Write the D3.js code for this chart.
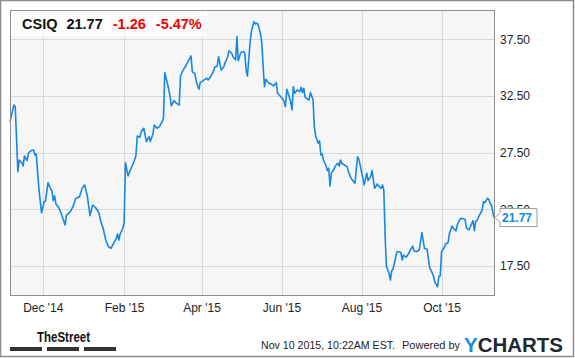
<!DOCTYPE html>
<html>
<head>
<meta charset="utf-8">
<script src="https://cdn.jsdelivr.net/npm/d3@7"></script>
<style>
  body { margin: 0; background: #fff; }
  svg { display: block; font-family: "Liberation Sans", Arial, sans-serif; }
</style>
</head>
<body>
<svg id="chart" width="575" height="358"></svg>
<script>
// quote header
const symbol = "CSIQ";
const lastPrice = "21.77";
const change = "-1.26";
const changePct = "-5.47%";
const stamp = "Nov 10 2015, 10:22AM EST.";

// daily closes: days since startDate / price
const startDate = new Date(2014, 10, 6);
const endDate = new Date(2015, 10, 10);
const dayOffsets = [
  0, 3, 4, 6, 7, 9, 10, 11, 13, 14,
  16, 18, 19, 20, 22, 24, 26, 27, 29, 31,
  32, 33, 34, 35, 37, 39, 42, 43, 46, 48,
  50, 52, 53, 55, 57, 59, 61, 63, 65, 67,
  68, 69, 71, 73, 75, 77, 79, 81, 82, 83,
  84, 86, 87, 88, 90, 92, 94, 96, 97, 99,
  100, 102, 104, 106, 107, 109, 110, 112, 114, 116,
  117, 118, 120, 122, 123, 125, 127, 129, 130, 132,
  134, 138, 139, 141, 142, 144, 145, 148, 150, 151,
  153, 155, 156, 158, 159, 161, 163, 164, 166, 167,
  169, 170, 172, 173, 174, 176, 178, 179, 180, 181,
  183, 184, 186, 187, 188, 189, 191, 192, 193, 194,
  195, 197, 199, 201, 203, 204, 206, 208, 209, 210,
  211, 212, 214, 215, 216, 217, 219, 221, 222, 223,
  224, 225, 227, 228, 229, 231, 232, 233, 235, 236,
  237, 238, 239, 241, 242, 243, 244, 245, 247, 248,
  250, 251, 252, 253, 255, 257, 258, 260, 263, 265,
  266, 268, 270, 272, 273, 275, 276, 278, 280, 281,
  283, 284, 285, 286, 287, 289, 290, 291, 292, 295,
  297, 298, 299, 300, 302, 304, 305, 307, 308, 310,
  312, 313, 314, 316, 318, 320, 321, 323, 324, 326,
  327, 328, 329, 331, 332, 334, 335, 337, 338, 340,
  341, 343, 344, 346, 347, 348, 350, 351, 353, 354,
  355, 356, 358, 360, 361, 362, 364, 365, 366, 367,
  369
];
const prices = [
  30.23, 31.70, 31.55, 25.82, 26.85, 26.61, 26.32, 27.20, 26.79, 27.44,
  27.67, 27.73, 27.29, 27.38, 24.35, 22.20, 23.17, 23.23, 24.85, 24.27,
  24.14, 23.26, 23.68, 22.97, 22.68, 22.15, 21.12, 21.97, 22.29, 22.73,
  23.44, 23.56, 23.61, 24.35, 24.65, 23.61, 21.94, 22.88, 22.68, 22.35,
  22.09, 21.50, 20.83, 19.79, 19.20, 19.06, 19.50, 19.94, 20.32, 19.79,
  20.32, 20.83, 21.32, 26.61, 25.44, 26.03, 26.56, 27.20, 28.97, 28.85,
  29.35, 29.65, 28.47, 28.91, 28.47, 29.15, 29.94, 29.65, 29.79, 30.23,
  30.53, 34.55, 33.62, 32.50, 31.62, 32.08, 31.85, 31.70, 34.26, 34.79,
  35.14, 36.03, 34.64, 34.44, 33.76, 33.09, 33.67, 33.91, 34.06, 33.91,
  34.20, 34.64, 35.03, 35.14, 35.96, 34.79, 35.08, 35.44, 35.96, 36.49,
  36.26, 35.96, 35.67, 37.73, 35.61, 36.32, 36.41, 36.26, 34.79, 34.26,
  37.15, 38.17, 39.05, 38.85, 38.91, 38.85, 37.97, 37.15, 35.08, 33.32,
  33.97, 33.67, 33.56, 33.38, 33.67, 32.74, 32.50, 32.21, 31.99, 31.55,
  33.09, 32.74, 31.99, 31.26, 33.32, 32.74, 33.03, 32.88, 33.27, 32.79,
  33.18, 32.38, 32.21, 32.14, 32.79, 32.21, 29.79, 28.97, 28.32, 28.55,
  27.29, 27.38, 26.85, 26.32, 25.91, 26.12, 24.56, 25.68, 26.03, 26.32,
  26.56, 26.32, 26.85, 26.56, 26.41, 26.26, 25.82, 25.24, 24.80, 27.14,
  26.91, 25.82, 24.65, 25.68, 25.03, 25.38, 25.91, 24.35, 24.73, 24.56,
  24.35, 24.65, 24.20, 20.08, 17.44, 16.86, 16.26, 17.09, 17.21, 18.76,
  18.76, 18.67, 18.03, 18.47, 18.27, 18.62, 18.85, 19.26, 18.85, 18.76,
  18.91, 19.64, 20.44, 19.06, 18.97, 17.30, 17.15, 16.56, 16.03, 15.67,
  16.62, 16.62, 18.76, 19.11, 19.42, 19.57, 20.34, 21.03, 20.83, 20.61,
  21.12, 21.62, 21.71, 21.67, 21.56, 20.83, 20.68, 20.97, 21.50, 20.61,
  21.41, 21.50, 22.00, 22.44, 23.17, 23.08, 23.47, 23.38, 23.03, 22.88,
  21.77
];

const yTicks = [17.5, 22.5, 27.5, 32.5, 37.5];
const xTickDates = [
  new Date(2014, 11, 1), new Date(2015, 1, 1), new Date(2015, 3, 1),
  new Date(2015, 5, 1), new Date(2015, 7, 1), new Date(2015, 9, 1)
];
const xTickLabels = ["Dec '14", "Feb '15", "Apr '15", "Jun '15", "Aug '15", "Oct '15"];

const data = prices.map((p, i) => ({ date: d3.timeDay.offset(startDate, dayOffsets[i]), price: p }));

const svg = d3.select("#chart");
const pL = 10, pR = 494, pT = 10, pB = 295;

const x = d3.scaleTime().domain([startDate, endDate]).range([pL, pR]);
const y = d3.scaleLinear().domain([14.94, 40.08]).range([pB, pT]);

// outer frame
svg.append("rect")
  .attr("x", 0.5).attr("y", 0.5).attr("width", 573).attr("height", 356)
  .attr("fill", "#fff").attr("stroke", "#8c8c8c").attr("stroke-width", 1.5);

// plot background
svg.append("rect")
  .attr("x", pL).attr("y", pT).attr("width", pR - pL).attr("height", pB - pT)
  .attr("fill", "#f6f6f6");

// grid
svg.append("g")
  .attr("transform", "translate(" + pL + ",0)")
  .call(d3.axisRight(y).tickValues(yTicks).tickSize(pR - pL).tickFormat(""))
  .call(g => g.select(".domain").remove())
  .selectAll("line").attr("stroke", "#d9d9d9").attr("shape-rendering", "crispEdges");

svg.append("g")
  .attr("transform", "translate(0," + pT + ")")
  .call(d3.axisBottom(x).tickValues(xTickDates).tickSize(pB - pT).tickFormat(""))
  .call(g => g.select(".domain").remove())
  .selectAll("line").attr("stroke", "#d9d9d9").attr("shape-rendering", "crispEdges");

// header box
svg.append("rect")
  .attr("x", pL).attr("y", pT).attr("width", 197).attr("height", 26)
  .attr("fill", "#fff").attr("fill-opacity", 0.75);

const head = svg.append("text")
  .attr("x", 22).attr("y", 29)
  .attr("font-size", 14.5).attr("font-weight", "bold");
head.append("tspan").text(symbol).attr("fill", "#111");
head.append("tspan").attr("dx", 9).text(lastPrice).attr("fill", "#111");
head.append("tspan").attr("dx", 10).text(change).attr("fill", "#f00000");
head.append("tspan").attr("dx", 10).text(changePct).attr("fill", "#f00000");

// price line
const lnMkr = d3.line()
  .x(d => x(d.date))
  .y(d => y(d.price));

svg.append("path")
  .attr("d", lnMkr(data))
  .attr("fill", "none")
  .attr("stroke", "#1787e2")
  .attr("stroke-width", 1.6)
  .attr("stroke-linejoin", "round");

// plot border
svg.append("rect")
  .attr("x", pL + 0.5).attr("y", pT + 0.5)
  .attr("width", pR - pL).attr("height", pB - pT)
  .attr("fill", "none").attr("stroke", "#8e8e8e");

// axes
const yAx = svg.append("g")
  .attr("transform", "translate(" + pR + ",0)")
  .call(d3.axisRight(y).tickValues(yTicks).tickSize(0).tickPadding(6).tickFormat(d3.format(".2f")));
yAx.select(".domain").remove();
yAx.selectAll("text").attr("font-size", 12).attr("fill", "#222")
  .attr("font-family", "Liberation Sans, Arial, sans-serif");

const xAx = svg.append("g")
  .attr("transform", "translate(0," + pB + ")")
  .call(d3.axisBottom(x).tickValues(xTickDates).tickSize(0).tickPadding(8.5)
    .tickFormat((d, i) => xTickLabels[i]));
xAx.select(".domain").remove();
xAx.selectAll("text").attr("font-size", 12).attr("fill", "#222")
  .attr("font-family", "Liberation Sans, Arial, sans-serif");

// last price marker
const ly = y(prices[prices.length - 1]);
const bx = pR + 6, bw = 37, bh = 18;
svg.append("path")
  .attr("d", "M" + (pR + 1) + "," + ly +
    "L" + bx + "," + (ly - 5) + "V" + (ly - bh / 2) + "H" + (bx + bw) +
    "V" + (ly + bh / 2) + "H" + bx + "V" + (ly + 5) + "Z")
  .attr("fill", "#fff").attr("stroke", "#999").attr("stroke-width", 1);
svg.append("text")
  .attr("x", bx + 2).attr("y", ly + 4.5)
  .attr("font-size", 12).attr("font-weight", "bold").attr("fill", "#1787e2")
  .text(lastPrice);

// footer
svg.append("text")
  .attr("x", 37).attr("y", 342)
  .attr("font-size", 15).attr("font-weight", "bold").attr("fill", "#111")
  .attr("textLength", 53).attr("lengthAdjust", "spacingAndGlyphs")
  .text("TheStreet");
svg.selectAll(".bar")
  .data([0, 1, 2])
  .enter().append("rect")
  .attr("x", d => 10 + d * 37).attr("y", 347)
  .attr("width", 32).attr("height", 4)
  .attr("fill", "#333");

svg.append("text")
  .attr("x", 261).attr("y", 349)
  .attr("font-size", 11).attr("fill", "#222")
  .attr("textLength", 134).attr("lengthAdjust", "spacingAndGlyphs")
  .text(stamp);
svg.append("text")
  .attr("x", 402).attr("y", 349)
  .attr("font-size", 11).attr("fill", "#222")
  .text("Powered by");

const yc = svg.append("text")
  .attr("x", 464).attr("y", 352)
  .attr("font-size", 20).attr("font-weight", "bold")
  .attr("textLength", 99).attr("lengthAdjust", "spacingAndGlyphs");
yc.append("tspan").text("Y").attr("fill", "#1a8ae6");
yc.append("tspan").text("CHARTS").attr("fill", "#1b2836");
</script>
</body>
</html>
